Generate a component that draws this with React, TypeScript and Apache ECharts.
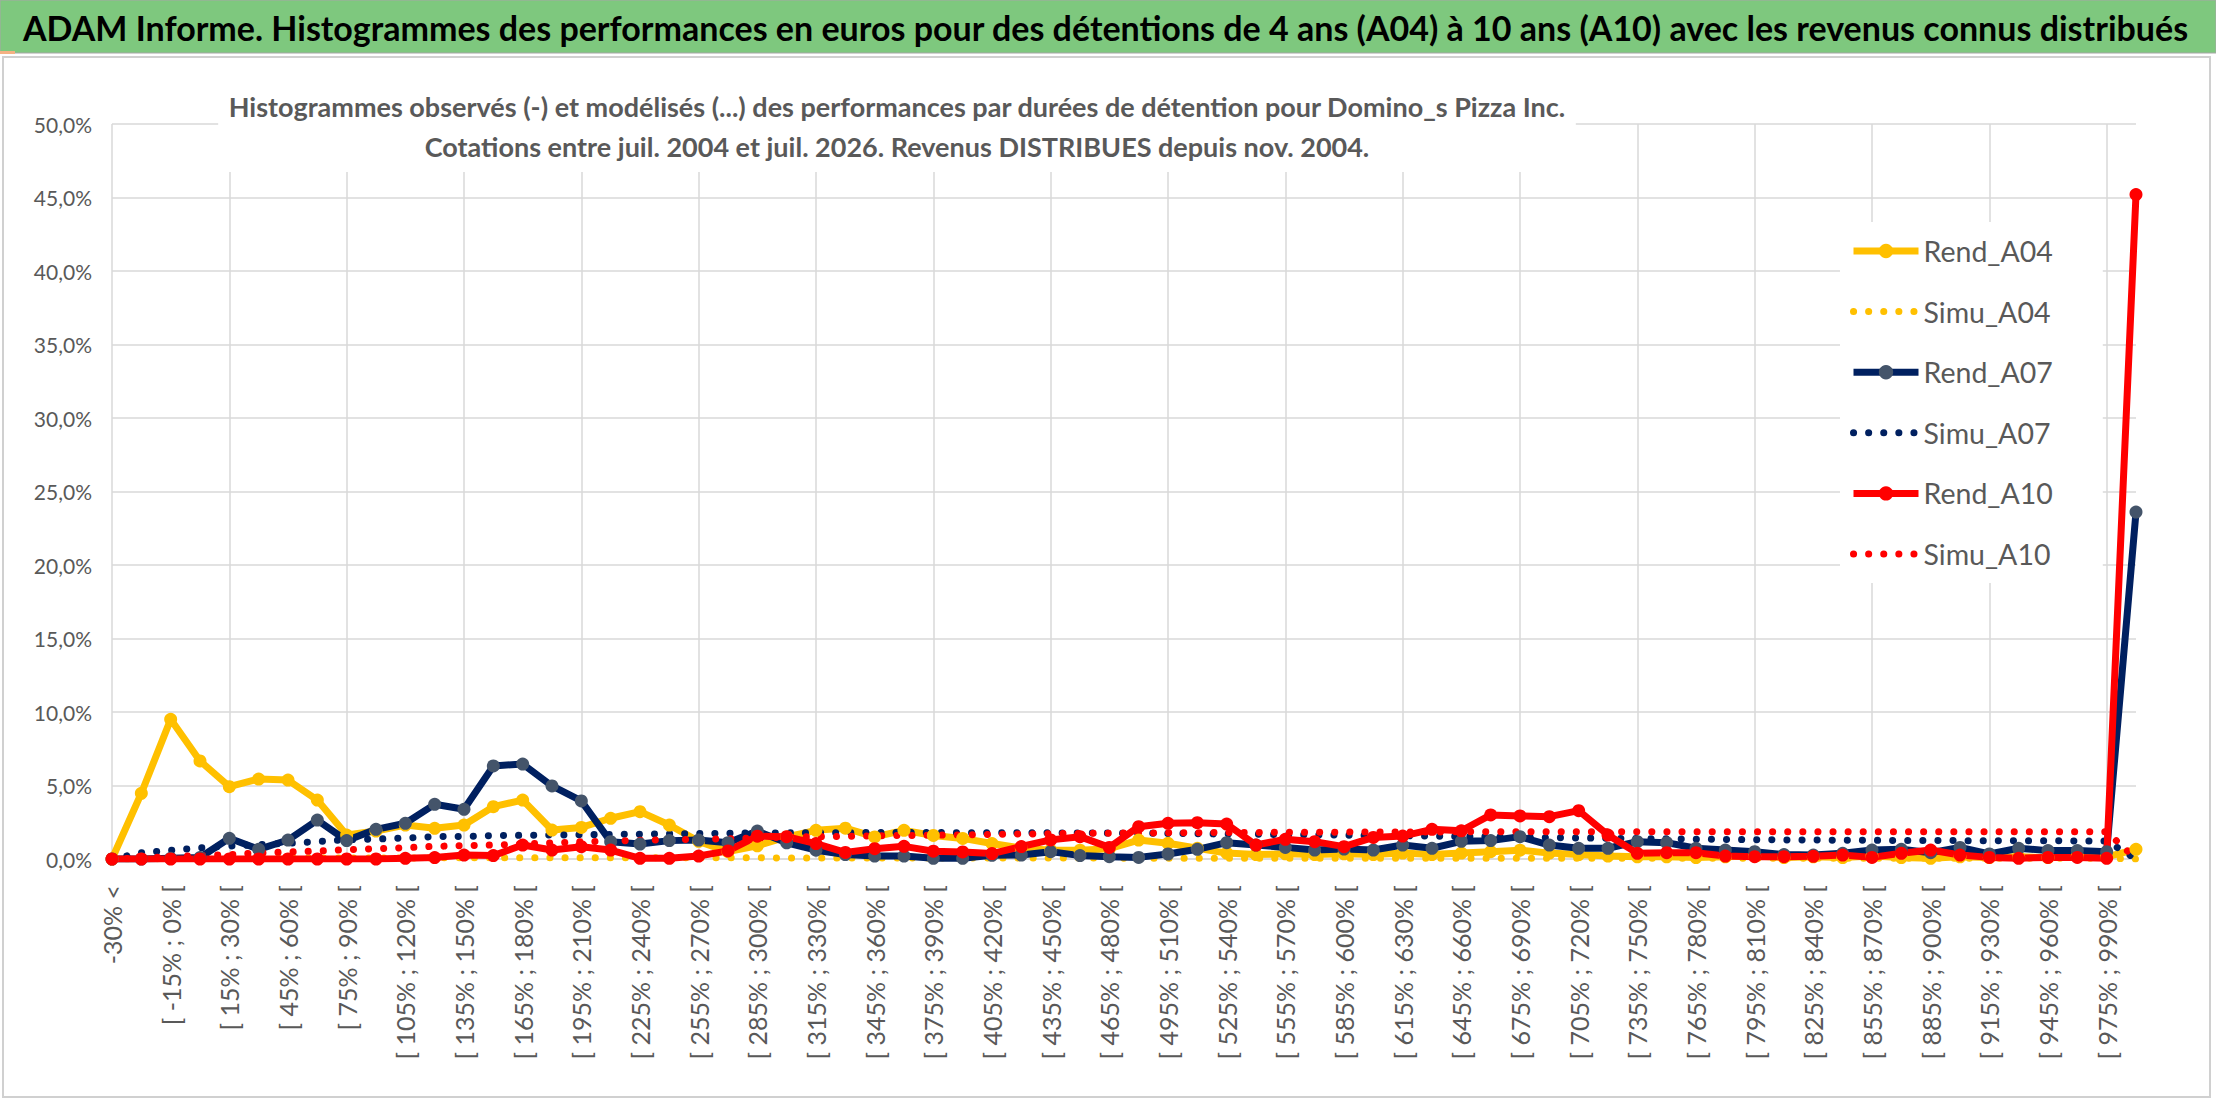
import * as echarts from 'echarts';
import { useEffect, useRef } from 'react';

const bannerText =
  'ADAM Informe. Histogrammes des performances en euros pour des détentions de 4 ans (A04) à 10 ans (A10) avec les revenus connus distribués';
const titleLine1 =
  'Histogrammes observés (-) et modélisés (...) des performances par durées de détention pour Domino_s Pizza Inc.';
const titleLine2 =
  'Cotations entre juil. 2004 et juil. 2026. Revenus DISTRIBUES depuis nov. 2004.';

// classes de performance : -30% <, [ -30% ; -15% [, ... [ 975% ; 990% [, 990% >
const categories: string[] = ['-30% <'];
for (let low = -30; low <= 975; low += 15) categories.push(`[ ${low}% ; ${low + 15}% [`);
categories.push('990% >');

// fréquences en %
const rendA04 = [
  0, 4.47, 9.5, 6.67, 4.92, 5.44, 5.37, 4.01, 1.63, 1.9,
  2.31, 2.09, 2.31, 3.56, 4.01, 1.97, 2.15, 2.77, 3.22, 2.31,
  1.2, 0.5, 0.9, 1.5, 1.95, 2.1, 1.5, 1.95, 1.6, 1.4,
  1.05, 0.75, 0.6, 0.6, 0.7, 1.29, 1.07, 0.73, 0.4, 0.3,
  0.35, 0.3, 0.35, 0.3, 0.4, 0.3, 0.4, 0.5, 0.6, 0.4,
  0.3, 0.2, 0.15, 0.15, 0.1, 0.15, 0.2, 0.1, 0.15, 0.1,
  0.2, 0.1, 0.05, 0.15, 0.1, 0.15, 0.1, 0.2, 0.15, 0.66,
];
const simuA04 = [
  0, 0.02, 0.03, 0.04, 0.05, 0.05, 0.06, 0.06, 0.07, 0.07,
  0.07, 0.08, 0.08, 0.08, 0.08, 0.08, 0.08, 0.08, 0.08, 0.08,
  0.08, 0.08, 0.08, 0.07, 0.07, 0.07, 0.07, 0.07, 0.07, 0.06,
  0.06, 0.06, 0.06, 0.06, 0.06, 0.05, 0.05, 0.05, 0.05, 0.05,
  0.05, 0.05, 0.05, 0.05, 0.05, 0.05, 0.05, 0.05, 0.05, 0.05,
  0.05, 0.05, 0.05, 0.05, 0.05, 0.05, 0.05, 0.05, 0.05, 0.05,
  0.05, 0.05, 0.05, 0.05, 0.05, 0.05, 0.05, 0.05, 0.05, 0,
];
const rendA07 = [
  0, 0, 0.05, 0.1, 1.41, 0.66, 1.29, 2.65, 1.25, 2.02,
  2.43, 3.72, 3.38, 6.33, 6.46, 4.97, 3.95, 1.18, 1.02, 1.25,
  1.29, 1.11, 1.9, 1.1, 0.6, 0.3, 0.2, 0.2, 0.05, 0.05,
  0.25, 0.27, 0.5, 0.23, 0.16, 0.11, 0.34, 0.66, 1.11, 0.95,
  0.79, 0.61, 0.68, 0.61, 0.95, 0.73, 1.2, 1.25, 1.52, 0.95,
  0.73, 0.73, 1.18, 1.11, 0.73, 0.61, 0.5, 0.3, 0.27, 0.39,
  0.61, 0.66, 0.43, 0.79, 0.34, 0.73, 0.57, 0.57, 0.5, 23.6,
];
const simuA07 = [
  0, 0.43, 0.59, 0.75, 0.88, 0.97, 1.07, 1.18, 1.31, 1.36,
  1.43, 1.52, 1.54, 1.59, 1.61, 1.63, 1.65, 1.67, 1.69, 1.71,
  1.73, 1.75, 1.77, 1.78, 1.79, 1.79, 1.8, 1.8, 1.8, 1.79,
  1.79, 1.78, 1.78, 1.77, 1.76, 1.75, 1.74, 1.72, 1.7, 1.68,
  1.66, 1.64, 1.62, 1.6, 1.58, 1.56, 1.53, 1.5, 1.47, 1.45,
  1.43, 1.41, 1.39, 1.37, 1.35, 1.33, 1.31, 1.3, 1.29, 1.28,
  1.27, 1.26, 1.26, 1.25, 1.25, 1.24, 1.24, 1.23, 1.23, 0,
];
const rendA10 = [
  0, 0, 0, 0, 0, 0, 0, 0, 0, 0,
  0.05, 0.1, 0.27, 0.23, 0.95, 0.61, 0.84, 0.61, 0.05, 0.05,
  0.2, 0.55, 1.55, 1.52, 1.05, 0.45, 0.7, 0.86, 0.53, 0.48,
  0.37, 0.85, 1.3, 1.52, 0.79, 2.2, 2.43, 2.47, 2.38, 0.95,
  1.34, 1.18, 0.84, 1.47, 1.56, 2.02, 1.92, 3.0, 2.93, 2.88,
  3.29, 1.63, 0.39, 0.43, 0.43, 0.2, 0.16, 0.16, 0.18, 0.27,
  0.11, 0.39, 0.61, 0.27, 0.11, 0.05, 0.11, 0.11, 0.05, 45.2,
];
const simuA10 = [
  0, 0.08, 0.16, 0.23, 0.3, 0.41, 0.48, 0.54, 0.63, 0.7,
  0.77, 0.86, 0.91, 0.95, 1.02, 1.09, 1.18, 1.22, 1.27, 1.31,
  1.34, 1.38, 1.43, 1.48, 1.52, 1.54, 1.58, 1.6, 1.62, 1.64,
  1.67, 1.7, 1.72, 1.74, 1.76, 1.77, 1.78, 1.79, 1.8, 1.81,
  1.82, 1.82, 1.83, 1.83, 1.84, 1.84, 1.85, 1.86, 1.86, 1.86,
  1.86, 1.86, 1.86, 1.86, 1.86, 1.86, 1.86, 1.86, 1.86, 1.86,
  1.86, 1.86, 1.86, 1.86, 1.86, 1.86, 1.86, 1.86, 1.86, 0,
];

const FONT = 'Lato, "Noto Sans", sans-serif';
const GREY = '#595959';
const GRID = '#d9d9d9';
const NO_DOT = { color: 'rgba(0,0,0,0)', borderWidth: 0 };

const rend = (name: string, data: number[], line: string, marker: string) => ({
  name,
  type: 'line',
  data,
  symbol: 'circle',
  symbolSize: 13,
  lineStyle: { color: line, width: 7 },
  itemStyle: { color: marker },
});

const simu = (name: string, data: number[], color: string) => ({
  name,
  type: 'line',
  data,
  symbol: 'none',
  lineStyle: { color, width: 7, type: [0.1, 15], cap: 'round' },
  itemStyle: { color },
});

export default function App() {
  const container = useRef<HTMLDivElement | null>(null);

  useEffect(() => {
    if (!container.current) return;
    const chart = echarts.init(container.current, null, { renderer: 'svg' });
    chart.setOption({
      animation: false,
      backgroundColor: '#fff',
      title: {
        text: titleLine1 + '\n' + titleLine2,
        left: 887,
        top: 80,
        textAlign: 'center',
        backgroundColor: '#fff',
        padding: [6, 10],
        textStyle: {
          fontFamily: FONT,
          fontSize: 27,
          fontWeight: 'bold',
          color: GREY,
          lineHeight: 40,
        },
      },
      legend: {
        orient: 'vertical',
        left: 1840,
        top: 222,
        backgroundColor: '#fff',
        padding: [14, 50, 14, 10],
        itemWidth: 65,
        itemHeight: 18,
        itemGap: 30.6,
        lineStyle: { width: 7 },
        data: [
          { name: 'Rend_A04' },
          { name: 'Simu_A04', itemStyle: NO_DOT },
          { name: 'Rend_A07' },
          { name: 'Simu_A07', itemStyle: NO_DOT },
          { name: 'Rend_A10' },
          { name: 'Simu_A10', itemStyle: NO_DOT },
        ],
        textStyle: { fontFamily: FONT, fontSize: 28.5, color: GREY, lineHeight: 30 },
      },
      grid: { left: 112, right: 80, top: 124, bottom: 243, outerBoundsMode: 'none' },
      xAxis: {
        type: 'category',
        data: categories,
        boundaryGap: false,
        axisLine: { show: true, lineStyle: { color: GRID, width: 1.5 } },
        axisTick: { show: false },
        splitLine: { show: true, interval: 3, lineStyle: { color: GRID, width: 1.5 } },
        axisLabel: {
          interval: 1,
          rotate: 90,
          margin: 26,
          fontFamily: FONT,
          fontSize: 25,
          color: GREY,
        },
      },
      yAxis: {
        type: 'value',
        min: 0,
        max: 50,
        interval: 5,
        axisLine: { show: false },
        axisTick: { show: false },
        splitLine: { lineStyle: { color: GRID, width: 1.5 } },
        axisLabel: {
          margin: 20,
          fontFamily: FONT,
          fontSize: 21,
          color: GREY,
          formatter: (v: number) => v.toFixed(1).replace('.', ',') + '%',
        },
      },
      graphic: [
        {
          type: 'rect',
          shape: { x: 3, y: 57, width: 2207, height: 1040 },
          style: { fill: 'none', stroke: '#d0d0d0', lineWidth: 2 },
          silent: true,
        },
        {
          type: 'rect',
          shape: { x: 0, y: 0, width: 2216, height: 53 },
          style: { fill: '#7ec87e', stroke: '#a6a6a6', lineWidth: 1 },
          silent: true,
        },
        {
          type: 'rect',
          shape: { x: 0, y: 51, width: 15, height: 3 },
          style: { fill: '#f4b183' },
          silent: true,
        },
        {
          type: 'text',
          x: 23,
          y: 27,
          style: {
            text: bannerText,
            fontFamily: FONT,
            fontSize: 34,
            fontWeight: 'bold',
            fill: '#000',
            verticalAlign: 'middle',
          },
          silent: true,
        },
      ],
      series: [
        rend('Rend_A04', rendA04, '#FFC000', '#FFC000'),
        simu('Simu_A04', simuA04, '#FFC000'),
        rend('Rend_A07', rendA07, '#002060', '#44546A'),
        simu('Simu_A07', simuA07, '#002060'),
        rend('Rend_A10', rendA10, '#FF0000', '#FF0000'),
        simu('Simu_A10', simuA10, '#FF0000'),
      ],
    } as echarts.EChartsOption);
    return () => {
      chart.dispose();
    };
  }, []);

  return (
    <div
      ref={container}
      style={{ position: 'fixed', left: 0, top: 0, width: '2216px', height: '1102px' }}
    />
  );
}
